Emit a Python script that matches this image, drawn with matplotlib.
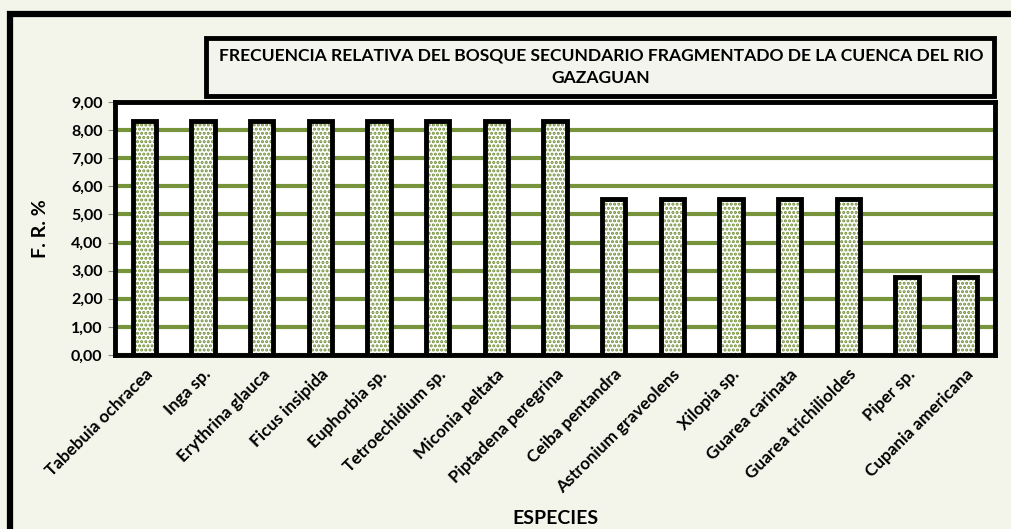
import matplotlib.pyplot as plt
import matplotlib.patches as mpatches
from matplotlib.ticker import FuncFormatter

plt.rcParams['font.family'] = ['Lato', 'DejaVu Sans']
plt.rcParams['hatch.linewidth'] = 1.5

especies = [
    "Tabebuia ochracea", "Inga sp.", "Erythrina glauca", "Ficus insipida",
    "Euphorbia sp.", "Tetroechidium sp.", "Miconia peltata", "Piptadena peregrina",
    "Ceiba pentandra", "Astronium graveolens", "Xilopia sp.", "Guarea carinata",
    "Guarea trichilioldes", "Piper sp.", "Cupania americana",
]
fr = [8.33, 8.33, 8.33, 8.33, 8.33, 8.33, 8.33, 8.33,
      5.56, 5.56, 5.56, 5.56, 5.56, 2.78, 2.78]
yticks = [0, 1, 2, 3, 4, 5, 6, 7, 8, 9]

verde = '#77933c'

fig = plt.figure(figsize=(10.11, 5.29), dpi=100, facecolor='#f3f5ea')

# marco exterior
fig.patches.append(mpatches.Rectangle((10 / 1011, -0.1), 1.2, 1 - 14 / 529 + 0.1,
                                      transform=fig.transFigure, fill=False,
                                      edgecolor='black', linewidth=4.5))

# caja del titulo
fig.patches.append(mpatches.Rectangle((206 / 1011, 1 - 96 / 529), 788 / 1011, 58 / 529,
                                      transform=fig.transFigure, facecolor='#f3f4ee',
                                      edgecolor='black', linewidth=3.5))
fig.text(601 / 1011, 1 - 67 / 529,
         "FRECUENCIA RELATIVA DEL BOSQUE SECUNDARIO FRAGMENTADO DE LA CUENCA DEL RIO\nGAZAGUAN",
         ha='center', va='center', fontsize=12.6, fontweight='bold', linespacing=1.5)

ax = fig.add_axes([115 / 1011, 1 - 355 / 529, 880 / 1011, 253 / 529])
ax.set_facecolor('white')
x = range(len(especies))
# relleno punteado verde y luego el borde negro
ax.bar(x, fr, width=0.4, facecolor='white', edgecolor='#6f8c35', linewidth=0,
       hatch='....', zorder=3)
ax.bar(x, fr, width=0.4, fill=False, edgecolor='black', linewidth=3.5, zorder=4)

ax.set_xlim(-0.5, len(especies) - 0.5)
ax.set_ylim(0, 9)
ax.set_yticks(yticks)
ax.yaxis.set_major_formatter(FuncFormatter(lambda v, p: f"{v:.2f}".replace('.', ',')))
ax.grid(axis='y', color=verde, linewidth=3, zorder=0)
ax.set_axisbelow(True)

ax.set_xticks(list(x))
ax.set_xticklabels(especies, rotation=45, ha='right', rotation_mode='anchor',
                   fontsize=12.3, fontweight='bold')
ax.tick_params(axis='x', length=0, pad=8)
ax.tick_params(axis='y', length=5, color='#888888', labelsize=11.5, pad=4)
for lab in ax.get_yticklabels():
    lab.set_fontweight('bold')

for s in ax.spines.values():
    s.set_linewidth(3.5)
    s.set_color('black')

ax.set_ylabel("F. R. %", fontsize=14, fontweight='bold', labelpad=16)
fig.text(555 / 1011, 1 - 518 / 529, "ESPECIES", ha='center', va='center',
         fontsize=14, fontweight='bold')

fig.savefig('out.png', dpi=100, facecolor=fig.get_facecolor())
